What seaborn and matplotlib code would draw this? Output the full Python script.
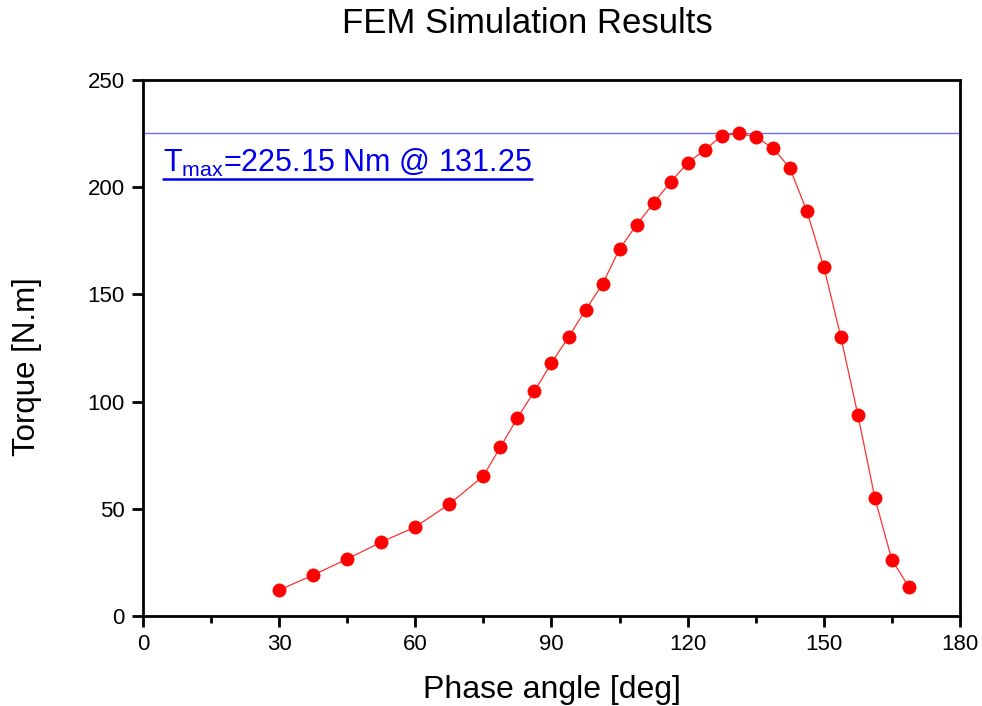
import matplotlib
matplotlib.use("Agg")
import matplotlib.pyplot as plt
import seaborn as sns
import pandas as pd
import numpy as np

phase_deg = [30, 37.5, 45, 52.5, 60, 67.5, 75, 78.75, 82.5, 86.25, 90, 93.75,
             97.5, 101.25, 105, 108.75, 112.5, 116.25, 120, 123.75, 127.5,
             131.25, 135, 138.75, 142.5, 146.25, 150, 153.75, 157.5, 161.25,
             165, 168.75]
torque_nm = [12.1, 19.1, 26.6, 34.5, 41.5, 52.2, 65.3, 78.8, 92.4, 104.9,
             118.0, 130.1, 142.7, 154.9, 171.2, 182.4, 192.6, 202.4, 211.3,
             217.4, 223.9, 225.15, 223.4, 218.3, 209.0, 188.9, 162.8, 130.1,
             93.8, 55.0, 26.1, 13.5]
t_max = 225.15
t_max_angle = 131.25
x_ticks = [0, 30, 60, 90, 120, 150, 180]
y_ticks = [0, 50, 100, 150, 200, 250]

sns.set_style("white")
plt.rcParams['font.family'] = ['Liberation Sans', 'DejaVu Sans']
plt.rcParams['text.color'] = 'black'
plt.rcParams['axes.labelcolor'] = 'black'
plt.rcParams['xtick.color'] = 'black'
plt.rcParams['ytick.color'] = 'black'
plt.rcParams['mathtext.fontset'] = 'custom'
plt.rcParams['mathtext.rm'] = 'Liberation Sans'

df = pd.DataFrame({"phase": phase_deg, "torque": torque_nm})

fig = plt.figure(figsize=(9.82, 7.06), dpi=100)
ax = fig.add_axes([0.1456, 0.1275, 0.832, 0.7592])

sns.lineplot(data=df, x="phase", y="torque", ax=ax, color="#ff3030", linewidth=0.9,
             marker="o", markersize=9.5, markeredgecolor="red", markerfacecolor="red",
             markeredgewidth=0.5, zorder=3)

ax.axhline(t_max, color="#6c6cf0", linewidth=1.0, zorder=2)

ax.set_xlim(0, 180)
ax.set_ylim(0, 250)
ax.set_xticks(x_ticks)
ax.set_xticks([15, 45, 75, 105, 135, 165], minor=True)
ax.set_yticks(y_ticks)
ax.tick_params(axis="both", which="major", direction="out", length=8, width=2,
               labelsize=16, bottom=True, left=True, top=False, right=False, pad=5)
ax.tick_params(axis="x", which="minor", direction="out", length=5, width=2, bottom=True)
for s in ax.spines.values():
    s.set_visible(True)
    s.set_color("black")
    s.set_linewidth(2)

ax.set_xlabel("Phase angle [deg]", fontsize=23, va="baseline")
ax.xaxis.set_label_coords(0.5, (616 - 698) / 536)
ax.set_ylabel("Torque [N.m]", fontsize=22.5)
ax.yaxis.set_label_coords(-0.1236, 0.466)
fig.text(0.537, 1 - 33 / 706, "FEM Simulation Results", fontsize=25,
         ha="center", va="baseline")

txt = ax.text(4.5, 207, r"T$_{\mathregular{max}}$=%.2f Nm @ %.2f" % (t_max, t_max_angle),
              color="#0000ee", fontsize=22, ha="left", va="baseline")
fig.canvas.draw()
bb = txt.get_window_extent(renderer=fig.canvas.get_renderer())
inv = ax.transAxes.inverted()
(x0, y0) = inv.transform((bb.x0, bb.y0))
(x1, _) = inv.transform((bb.x1, bb.y0))
ax.plot([x0, x1], [y0, y0], transform=ax.transAxes, color="#0000ee", linewidth=1.8,
        clip_on=False)

fig.savefig("out.png", dpi=100)
